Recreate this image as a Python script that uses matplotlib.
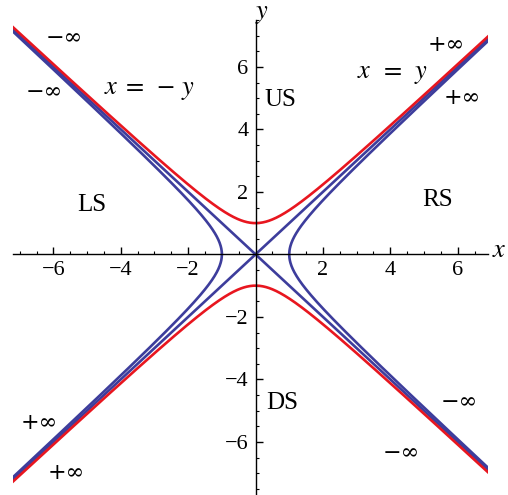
import numpy as np
import matplotlib.pyplot as plt
from matplotlib.ticker import FixedLocator, MultipleLocator

plt.rcParams['mathtext.fontset'] = 'stix'
serif = 'Liberation Serif'

# hyperbola parameter and window
a = 1.0
x_range = (-7.2, 6.9)
y_range = (-7.7, 7.5)

major_ticks = [-6, -4, -2, 2, 4, 6]
tick_labels = ['\u22126', '\u22124', '\u22122', '2', '4', '6']

# region names and their positions
regions = ['US', 'LS', 'RS', 'DS']
region_x = [0.27, -4.87, 5.4, 0.33]
region_y = [4.93, 1.57, 1.73, -4.77]
region_ha = ['left', 'center', 'center', 'left']

# limit markers along the asymptotes
inf_labels = ['\u2212\u221e', '\u2212\u221e', '+\u221e', '+\u221e',
              '+\u221e', '+\u221e', '\u2212\u221e', '\u2212\u221e']
inf_x = [-5.67, -6.26, 5.67, 6.14, -6.41, -5.61, 6.05, 4.33]
inf_y = [6.9, 5.18, 6.69, 5.02, -5.41, -7.0, -4.74, -6.37]

red = '#e8161f'
blue = '#3d3d9c'
lw = 1.9

fig = plt.figure(figsize=(5.08, 4.95), dpi=100)
ax = fig.add_axes([13 / 508, 0, 475 / 508, 475 / 495])

xs = np.linspace(x_range[0], x_range[1], 600)
ys = np.linspace(y_range[0], y_range[1], 600)

# asymptotes y = x and y = -x
ax.plot(xs, xs, color=blue, lw=lw)
ax.plot(xs, -xs, color=blue, lw=lw)
# x^2 - y^2 = a^2 branches
ax.plot(np.sqrt(a**2 + ys**2), ys, color=blue, lw=lw)
ax.plot(-np.sqrt(a**2 + ys**2), ys, color=blue, lw=lw)
# y^2 - x^2 = a^2 branches
ax.plot(xs, np.sqrt(a**2 + xs**2), color=red, lw=lw)
ax.plot(xs, -np.sqrt(a**2 + xs**2), color=red, lw=lw)

ax.set_xlim(*x_range)
ax.set_ylim(*y_range)

ax.spines['left'].set_position(('data', 0))
ax.spines['bottom'].set_position(('data', 0))
ax.spines['right'].set_visible(False)
ax.spines['top'].set_visible(False)
for s in ('left', 'bottom'):
    ax.spines[s].set_linewidth(1.0)

for axis in (ax.xaxis, ax.yaxis):
    axis.set_major_locator(FixedLocator(major_ticks))
    axis.set_minor_locator(MultipleLocator(0.5))
ax.set_xticklabels(tick_labels)
ax.set_yticklabels(tick_labels)
ax.tick_params(which='major', direction='in', length=5, width=1.0,
               labelsize=16, pad=5)
ax.tick_params(which='minor', direction='in', length=2.5, width=0.8)
for lbl in ax.get_xticklabels() + ax.get_yticklabels():
    lbl.set_fontfamily(serif)

ax.text(-3.15, 5.3, r'$x\;=\;-\,y$', fontsize=19, ha='center', va='center')
ax.text(4.07, 5.8, r'$x\;\;=\;\,y$', fontsize=19, ha='center', va='center')

for name, rx, ry, ha in zip(regions, region_x, region_y, region_ha):
    ax.text(rx, ry, name, fontsize=18, family=serif, ha=ha, va='center')

for lab, ix, iy in zip(inf_labels, inf_x, inf_y):
    ax.text(ix, iy, lab, fontsize=16, family=['DejaVu Serif'], ha='center',
            va='center')

ax.text(0.2, 7.74, r'$y$', fontsize=19, ha='center', va='center', clip_on=False)
ax.text(7.24, 0.13, r'$x$', fontsize=19, ha='center', va='center', clip_on=False)

fig.savefig('out.png', dpi=100)
